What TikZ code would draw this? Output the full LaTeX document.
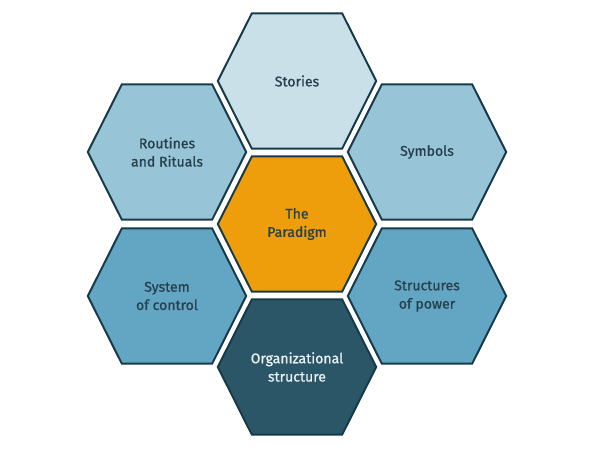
\documentclass[tikz,border=0pt]{standalone}
\usepackage{fontspec}
\setmainfont{Fira Sans}
\newfontfamily\cellfont{Fira Sans}[FakeBold=0.9]
\usepackage{tikz}
\usetikzlibrary{positioning}
\usepackage{xcolor}
\definecolor{edge}{HTML}{173A48}
\definecolor{ink}{HTML}{26404C}
\definecolor{pale}{HTML}{CAE0E9}
\definecolor{mid}{HTML}{98C4D8}
\definecolor{deep}{HTML}{62A6C4}
\definecolor{core}{HTML}{ED9E0A}
\definecolor{dark}{HTML}{2B5668}
\definecolor{light}{HTML}{EAF0F2}

\begin{document}
\begin{tikzpicture}[
  hx/.style={draw=edge, line width=1.4pt, line join=miter},
  lb/.style={align=center, font=\cellfont\fontsize{10}{13}\selectfont}
]
  \useasboundingbox (-7.425,5.6) rectangle (7.575,-5.65);
  % cells: x / y / name / fill / text colour / label
  \foreach \x/\y/\nm/\col/\tc/\txt in {
      0/3.575/stories/pale/ink/Stories,
      -3.25/1.8/routines/mid/ink/{Routines\\and Rituals},
      3.25/1.8/symbols/mid/ink/Symbols,
      0/0/paradigm/core/ink/{The\\Paradigm},
      -3.25/-1.8/control/deep/ink/{System\\of control},
      3.25/-1.8/power/deep/ink/{Structures\\of power},
      0/-3.575/orgstruct/dark/light/{Organizational\\structure}}{
    \draw[hx, fill=\col] (\x-1.98,\y) -- (\x-1.13,\y+1.69) -- (\x+1.13,\y+1.69)
      -- (\x+1.98,\y) -- (\x+1.13,\y-1.69) -- (\x-1.13,\y-1.69) -- cycle;
    \node[lb, text=\tc] (\nm) at (\x,\y) {\txt};
  }
\end{tikzpicture}
\end{document}
